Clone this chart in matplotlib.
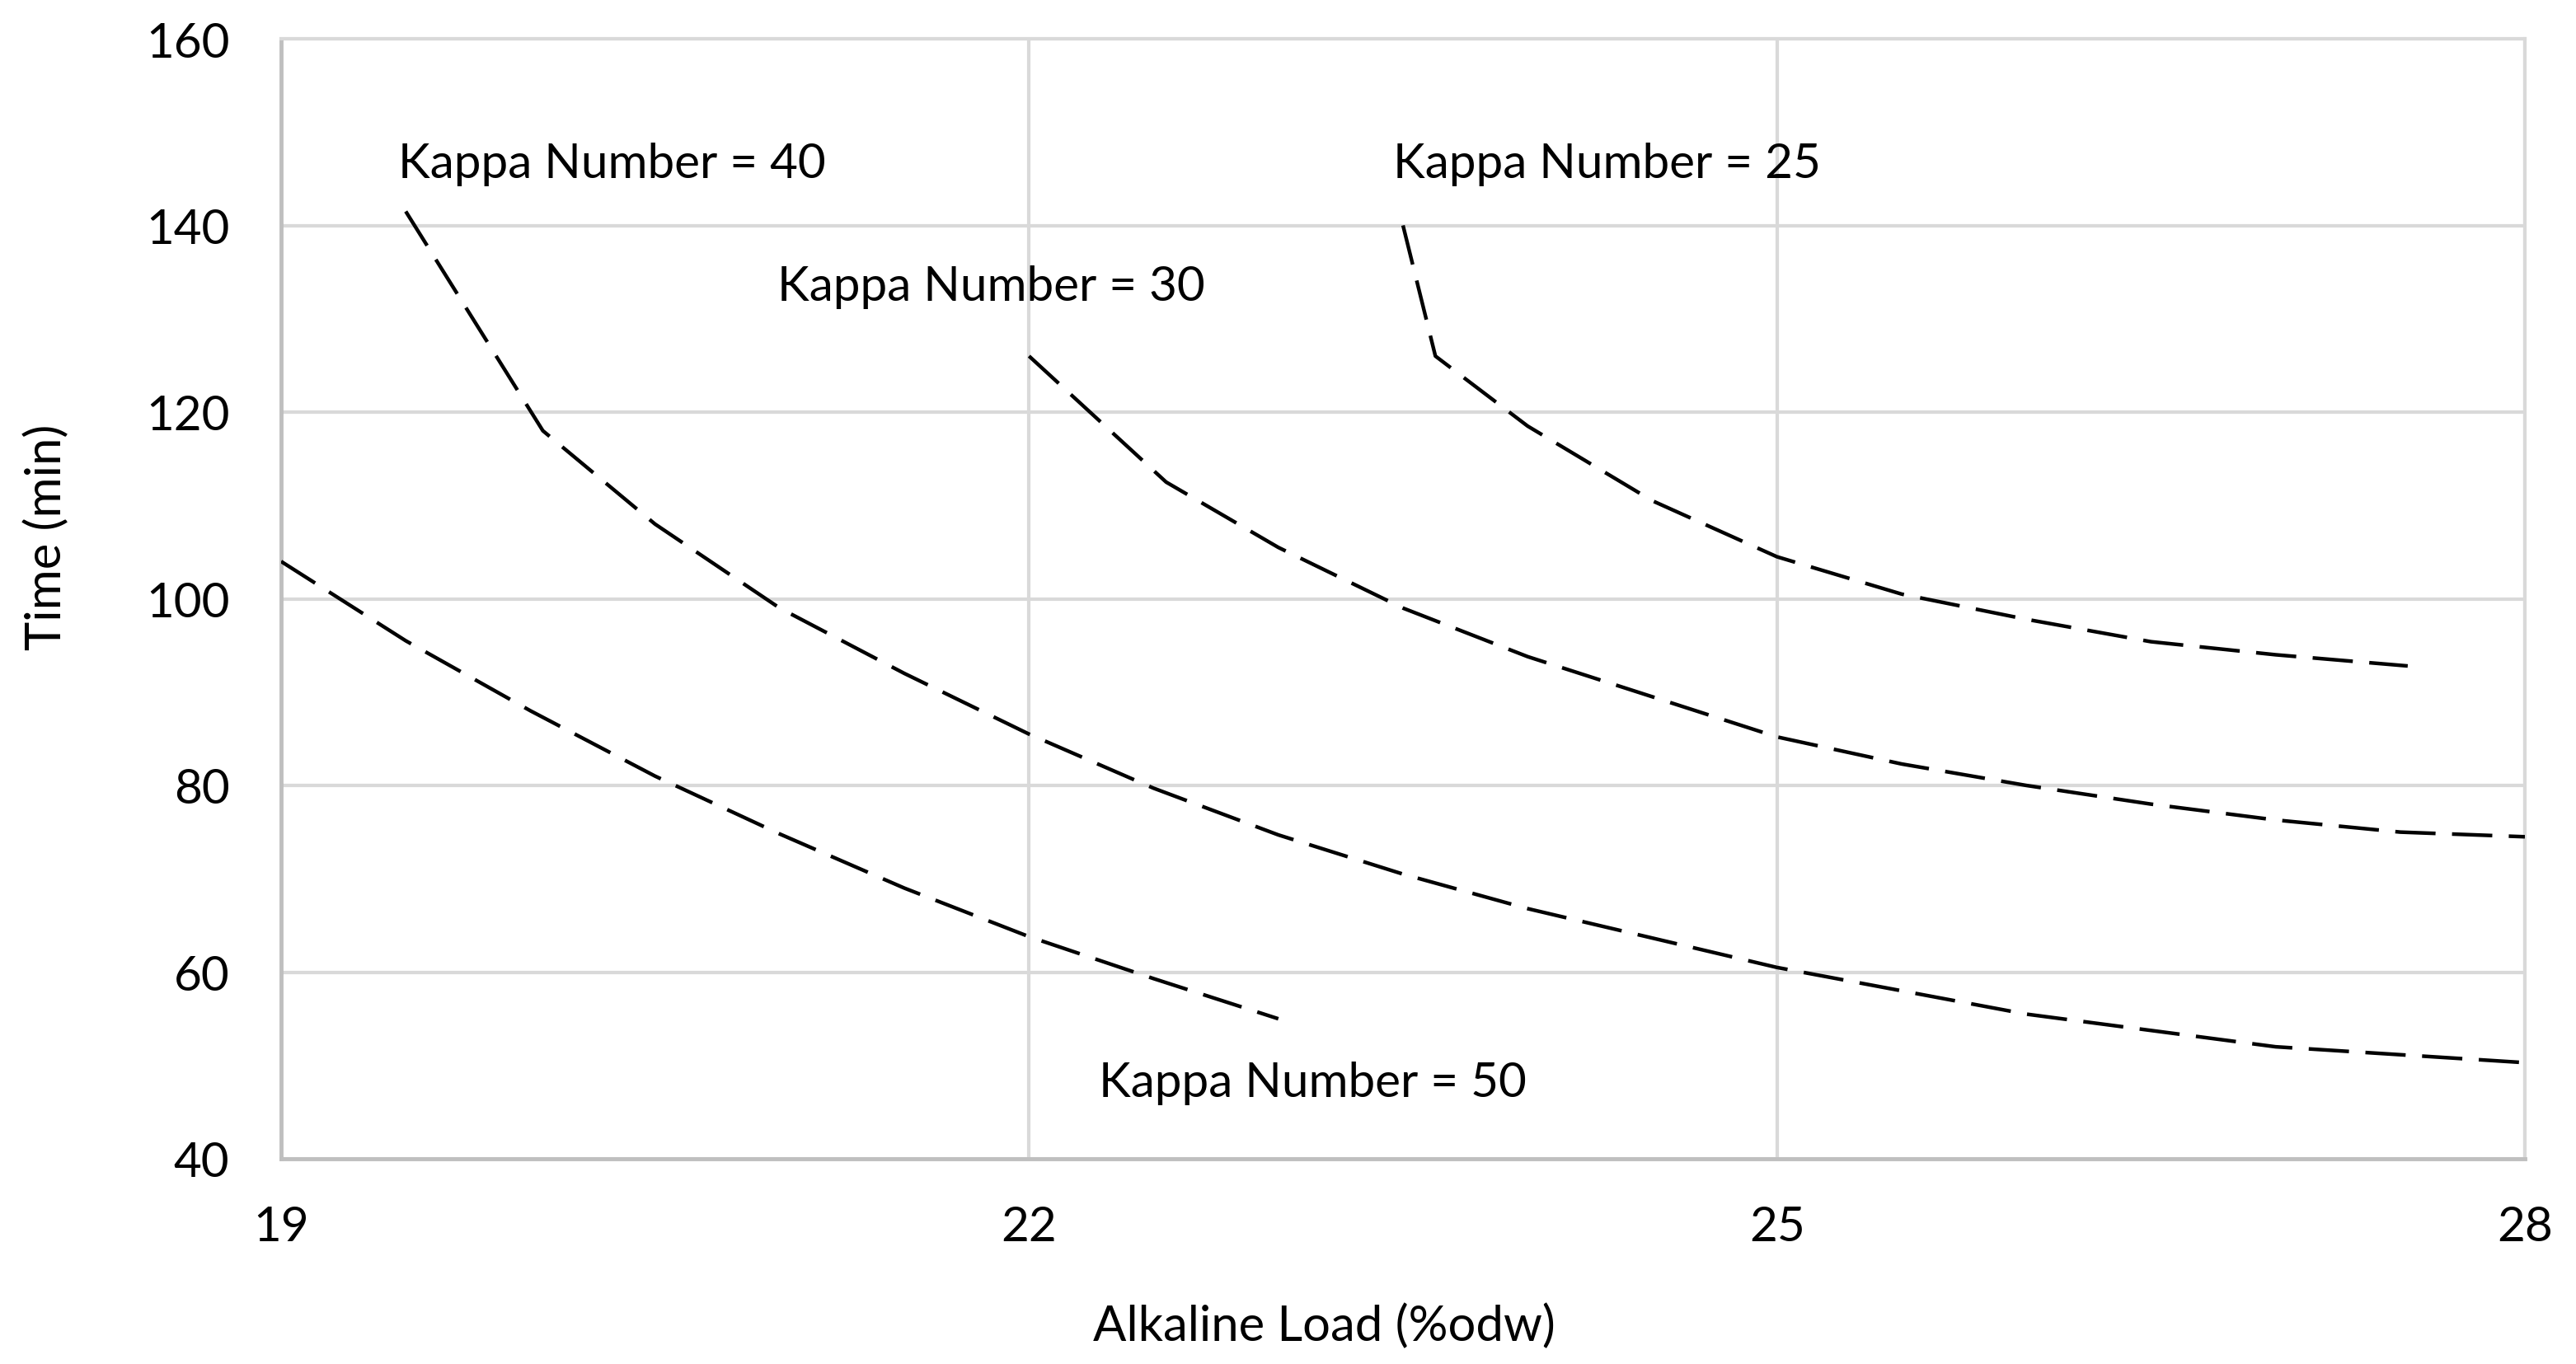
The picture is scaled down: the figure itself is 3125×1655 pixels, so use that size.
import matplotlib
matplotlib.use("Agg")
import matplotlib.pyplot as plt

plt.rcParams['font.family'] = ['Lato', 'DejaVu Sans']

# Alkaline load (%odw) vs cooking time (min)
k50_x = [19, 19.5, 20, 20.5, 21, 21.5, 22, 22.5, 23]
k50_y = [104, 95.5, 88, 81, 74.8, 69, 63.8, 59.3, 55]

k40_x = [19.5, 20.05, 20.5, 21, 21.5, 22, 22.5, 23, 23.5, 24, 25, 26, 27, 28]
k40_y = [141.5, 118, 108, 99, 92, 85.5, 79.7, 74.7, 70.5, 66.8, 60.5, 55.5, 52, 50.3]

k30_x = [22, 22.55, 23, 23.5, 24, 24.5, 25, 25.5, 26, 26.5, 27, 27.5, 28]
k30_y = [126, 112.5, 105.5, 99, 93.8, 89.5, 85.2, 82.3, 80, 78, 76.3, 75, 74.5]

k25_x = [23.5, 23.63, 24, 24.5, 25, 25.5, 26, 26.5, 27, 27.53]
k25_y = [140, 126, 118.5, 110.5, 104.5, 100.5, 97.8, 95.4, 94, 92.8]

labels = ["Kappa Number = 50", "Kappa Number = 40", "Kappa Number = 30", "Kappa Number = 25"]
label_pos = [(22.28, 48.2), (19.47, 146.6), (20.99, 133.5), (23.46, 146.6)]

xticks = [19, 22, 25, 28]
yticks = [40, 60, 80, 100, 120, 140, 160]

fig = plt.figure(figsize=(31.25, 16.56), dpi=100)
ax = fig.add_axes([341/3125, 1-1407/1656, 2722/3125, 1359/1656])

for xs, ys in [(k50_x, k50_y), (k40_x, k40_y), (k30_x, k30_y), (k25_x, k25_y)]:
    ax.plot(xs, ys, color="black", lw=3.2, dashes=(11, 4.5), solid_capstyle='butt',
            dash_capstyle='butt', zorder=3)

for txt, (tx, ty) in zip(labels, label_pos):
    ax.text(tx, ty, txt, fontsize=42, ha='left', va='center', color='black')

ax.set_xlim(19, 28)
ax.set_ylim(40, 160)
ax.set_xticks(xticks)
ax.set_yticks(yticks)
ax.tick_params(length=0, labelsize=42, colors='black')
ax.tick_params(axis='y', pad=45)
ax.tick_params(axis='x', pad=40)
ax.grid(True, color="#d9d9d9", lw=3.0, zorder=0)
ax.set_axisbelow(True)
for s in ['top', 'right']:
    ax.spines[s].set_color("#d9d9d9")
    ax.spines[s].set_linewidth(3.0)
for s in ['left', 'bottom']:
    ax.spines[s].set_color("#bfbfbf")
    ax.spines[s].set_linewidth(3.5)

ax.set_xlabel("Alkaline Load (%odw)", fontsize=43)
ax.xaxis.set_label_coords(0.465, -0.149)
ax.xaxis.label.set_verticalalignment('center')
ax.set_ylabel("Time (min)", fontsize=43)
ax.yaxis.set_label_coords(-0.1047, 0.556)
ax.yaxis.label.set_verticalalignment('center')

fig.savefig("out.png", dpi=100)
